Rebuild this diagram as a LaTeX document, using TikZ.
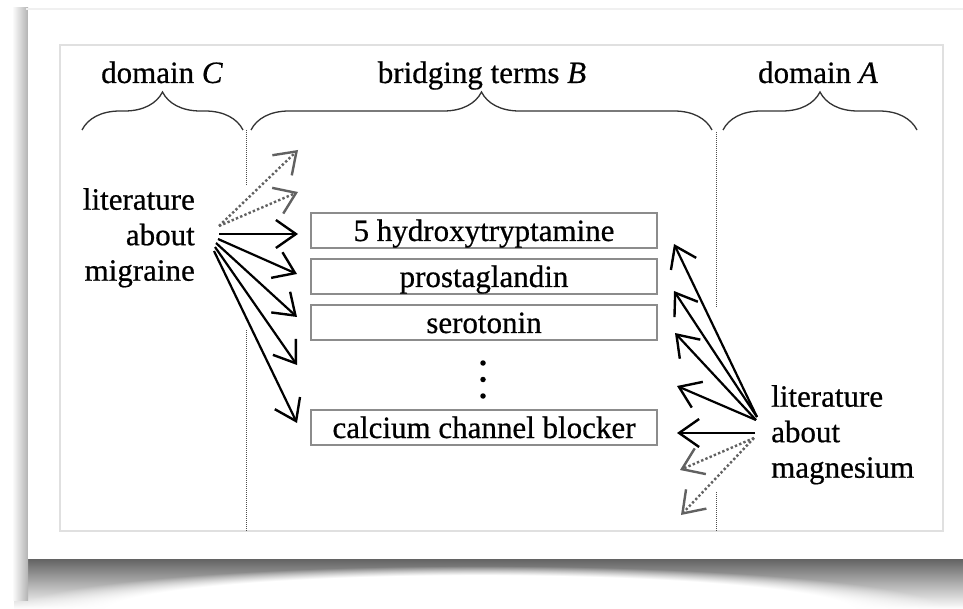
\documentclass[tikz,border=0pt]{standalone}
\usepackage{fontspec}
\setmainfont{Liberation Serif}[FakeBold=0.6]
\usetikzlibrary{arrows.meta,decorations.pathreplacing,fadings}
\begin{document}
\begin{tikzpicture}[x=1pt,y=-1pt,
  lbl/.style={font=\fontsize{31}{35.5}\selectfont, inner sep=0pt},
  term/.style={draw=black!45, line width=1.5pt, minimum width=346pt, minimum height=35pt, inner sep=0pt, text height=21pt, text depth=0pt, font=\fontsize{31}{36}\selectfont},
  brc/.style={draw=black!80, line width=1.3pt, decorate, decoration={brace, amplitude=38pt}},
  sepline/.style={draw=black!70, line width=1pt, dash pattern=on 1pt off 1pt},
  arr/.style={draw=black, line width=2.2pt, -{Straight Barb[length=20pt, width=28pt, line width=2.4pt]}},
  darr/.style={arr, draw=black!62, line width=2.4pt, dash pattern=on 2.4pt off 2.2pt},
  vdot/.style={circle, fill=black, inner sep=0pt, minimum size=5.5pt},
]
\useasboundingbox (0,0) rectangle (963,609);
% page shadow
\fill[white] (0,0) rectangle (963,609);
\shade[top color=black!65, bottom color=white] (14,556) rectangle (963,609);
\fill[white, path fading=circle with fuzzy edge 20 percent] (480,612) ellipse [x radius=470, y radius=46];
\shade[left color=white, right color=black!30] (12,8) rectangle (28,600);
\fill[black!6] (26,8) rectangle (963,10);
\fill[white] (28,10) rectangle (963,559);
% inner frame
\draw[black!12, line width=1.5pt] (60,45) rectangle (943,531);
% separators
\draw[sepline] (246.5,130) -- (246.5,185) (246.5,330) -- (246.5,531);
\draw[sepline] (716.5,132) -- (716.5,308) (716.5,492) -- (716.5,531);
% braces
\draw[brc] (82,130) -- (243,130);
\draw[brc] (251,130) -- (712,130);
\draw[brc] (723,130) -- (917,130);
% headers
\node[lbl, anchor=base] (hC) at (162,83) {domain \textit{C}};
\node[lbl, anchor=base] (hB) at (482,83) {bridging terms \textit{B}};
\node[lbl, anchor=base] (hA) at (818,83) {domain \textit{A}};
% literature labels
\node[lbl, align=right, anchor=north east] (lmig) at (195,188) {literature\\about\\migraine};
\node[lbl, align=left, anchor=north west] (rmag) at (771,385) {literature\\about\\magnesium};
% bridging terms
\node[term] (b1) at (484,230.5) {5 hydroxytryptamine};
\node[term] (b2) at (484,276.5) {prostaglandin};
\node[term] (b3) at (484,322.5) {serotonin};
\node[term] (b4) at (484,427.5) {calcium channel blocker};
\node[vdot] (d1) at (483,363) {};
\node[vdot] (d2) at (483,379.5) {};
\node[vdot] (d3) at (483,396) {};
% left arrow ends
\coordinate (ls0) at (219,226);
\coordinate (ls1) at (219,234);
\coordinate (ls2) at (218,239);
\coordinate (ls3) at (216,243);
\coordinate (ls4) at (215,247);
\coordinate (ls5) at (214,251);
\coordinate (lt1) at (298,150);
\coordinate (lt2) at (298,192);
\coordinate (lt3) at (298,234);
\coordinate (lt4) at (297,274);
\coordinate (lt5) at (297,317);
\coordinate (lt6) at (297,365);
\coordinate (lt7) at (297,423);
\draw[darr] (ls0) -- (lt1);
\draw[darr] (ls0) -- (lt2);
\draw[arr] (ls1) -- (lt3);
\draw[arr] (ls2) -- (lt4);
\draw[arr] (ls3) -- (lt5);
\draw[arr] (ls4) -- (lt6);
\draw[arr] (ls5) -- (lt7);
% right arrow ends
\coordinate (rs1) at (757,417);
\coordinate (rs2) at (756,420);
\coordinate (rs3) at (755,433);
\coordinate (rs4) at (754,438);
\coordinate (rt1) at (674,244);
\coordinate (rt2) at (674,291);
\coordinate (rt3) at (675,333);
\coordinate (rt4) at (677,386);
\coordinate (rt5) at (677,433);
\coordinate (rt6) at (680,470);
\coordinate (rt7) at (681,515);
\draw[arr] (rs1) -- (rt1);
\draw[arr] (rs1) -- (rt2);
\draw[arr] (rs2) -- (rt3);
\draw[arr] (rs2) -- (rt4);
\draw[arr] (rs3) -- (rt5);
\draw[darr] (rs4) -- (rt6);
\draw[darr] (rs4) -- (rt7);
\end{tikzpicture}
\end{document}
